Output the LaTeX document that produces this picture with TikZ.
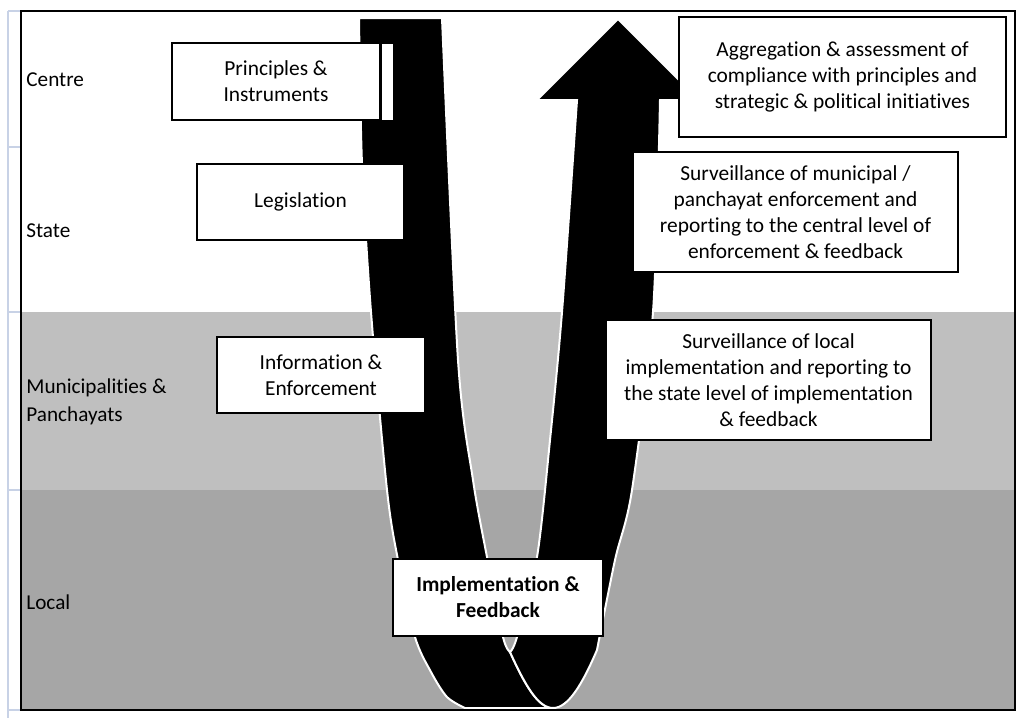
\documentclass[tikz,border=0pt]{standalone}
\usepackage{fontspec}
\setmainfont{Carlito}[Ligatures=NoCommon]
\definecolor{lightband}{RGB}{191,191,191}
\definecolor{darkband}{RGB}{166,166,166}
\definecolor{gridline}{RGB}{200,210,230}
\begin{document}
\begin{tikzpicture}[x=0.5pt, y=-0.5pt,
	box/.style={draw=black, line width=0.9pt, fill=white, align=center, inner sep=0pt, font=\fontsize{10.7}{13}\selectfont},
	rowlabel/.style={anchor=west, align=left, inner sep=0pt, font=\fontsize{10.6}{14}\selectfont},
	band/.style={fill=black, draw=white, line width=1pt}]
	\useasboundingbox (0,0) rectangle (1017,718);
	%row shading and table grid
	\fill[white] (21,11) rectangle (1015,312);
	\fill[lightband] (21,312) rectangle (1015,490);
	\fill[darkband] (21,490) rectangle (1015,710);
	\draw[gridline, line width=1pt] (8,11) -- (8,718);
	\foreach \y in {11,147,312,490,710}
		\draw[gridline, line width=1pt] (8,\y) -- (21,\y);

	%downward band
	\filldraw[band] (359,18) -- plot[smooth] coordinates {(359,18) (362,164) (371,312) (387,490) (398,560) (415,637) (431,672) (447,697) (465,708)}
		-- (553,708) .. controls (538,708) and (525,685) .. (510,652)
		-- plot[smooth] coordinates {(510,652) (503,637) (487,557) (473,480) (458,360) (442,18)} -- cycle;
	%upward band with arrow head
	\filldraw[band] (510,652) .. controls (525,685) and (538,708) .. (553,708) .. controls (568,708) and (582,685) .. (597,650)
		-- plot[smooth] coordinates {(597,650) (615,560) (632,490) (653,312) (660,100)}
		-- (699,100) -- (618,19) -- (537,100) -- (577,100)
		-- plot[smooth] coordinates {(577,100) (562,312) (550,440) (537,557) (517,637) (510,652)} -- cycle;
	\fill[white] (382,44) rectangle (393,120);

	%boxes on the way down
	\node[box, minimum width=104pt, minimum height=38.5pt] (princ) at (276,81.5) {Principles \&\\ Instruments};
	\node[box, minimum width=103.5pt, minimum height=38pt] (legis) at (300.5,202) {Legislation};
	\node[box, minimum width=104pt, minimum height=38pt] (info) at (321,375) {Information \&\\ Enforcement};
	\node[box, minimum width=105pt, minimum height=38.5pt] (impl) at (498,597.5) {\textbf{Implementation \&}\\ \textbf{Feedback}};
	%boxes on the way up
	\node[box, minimum width=163.5pt, minimum height=60pt] (aggr) at (842.5,77) {Aggregation \& assessment of\\ compliance with principles and\\ strategic \& political initiatives};
	\node[box, minimum width=162.5pt, minimum height=60pt] (survm) at (795.5,212) {Surveillance of municipal /\\ panchayat enforcement and\\ reporting to the central level of\\ enforcement \& feedback};
	\node[box, minimum width=162.5pt, minimum height=60pt] (survl) at (768.5,380) {Surveillance of local\\ implementation and reporting to\\ the state level of implementation\\ \& feedback};

	%row labels
	\node[rowlabel] (centre) at (26,80) {Centre};
	\node[rowlabel] (state) at (26,231) {State};
	\node[rowlabel] (munic) at (26,402) {Municipalities \&\\ Panchayats};
	\node[rowlabel] (local) at (26,602) {Local};

	%outer frame
	\draw[line width=1pt] (21,11) rectangle (1015,710);
\end{tikzpicture}
\end{document}
